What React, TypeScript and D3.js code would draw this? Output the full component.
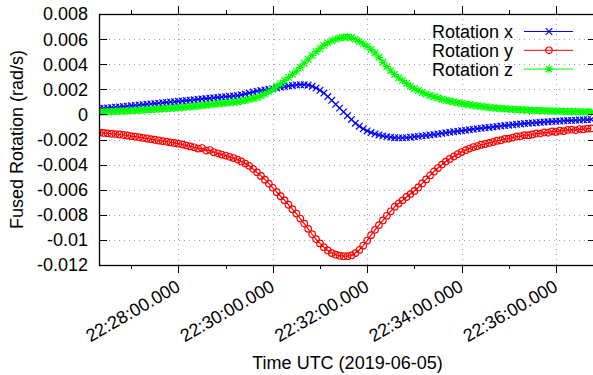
import React from 'react';
import * as d3 from 'd3';

const W = 593;
const H = 375;

// time base of samples (UTC), one sample every 5 s
const sampleStart = '2019-06-05T22:26:20Z';
const sampleStepSec = 5;

// Rotation x (rad/s, x1e-3)
const rotX = [
  0.47, 0.49, 0.52, 0.55, 0.57,
  0.60, 0.63, 0.66, 0.69, 0.72,
  0.75, 0.78, 0.81, 0.84, 0.87,
  0.90, 0.93, 0.96, 0.99, 1.01,
  1.04, 1.07, 1.10, 1.13, 1.16,
  1.20, 1.23, 1.26, 1.29, 1.32,
  1.35, 1.38, 1.41, 1.44, 1.47,
  1.50, 1.56, 1.63, 1.70, 1.78,
  1.85, 1.90, 1.95, 2.00, 2.05,
  2.10, 2.16, 2.22, 2.27, 2.31,
  2.35, 2.37, 2.37, 2.33, 2.24,
  2.10, 1.92, 1.70, 1.42, 1.12,
  0.80, 0.50, 0.20, -0.10, -0.40,
  -0.70, -0.94, -1.15, -1.32, -1.45,
  -1.55, -1.64, -1.71, -1.77, -1.82,
  -1.86, -1.87, -1.87, -1.85, -1.82,
  -1.78, -1.75, -1.71, -1.68, -1.64,
  -1.60, -1.56, -1.51, -1.47, -1.42,
  -1.38, -1.34, -1.30, -1.26, -1.22,
  -1.18, -1.14, -1.11, -1.07, -1.04,
  -1.00, -0.96, -0.93, -0.89, -0.86,
  -0.82, -0.79, -0.76, -0.73, -0.70,
  -0.68, -0.66, -0.63, -0.61, -0.59,
  -0.57, -0.55, -0.53, -0.51, -0.49,
  -0.48, -0.46, -0.45, -0.43, -0.42,
  -0.40,
];

// Rotation y (rad/s, x1e-3)
const rotY = [
  -1.45, -1.48, -1.51, -1.54, -1.57,
  -1.60, -1.64, -1.68, -1.73, -1.77,
  -1.82, -1.87, -1.92, -1.97, -2.02,
  -2.08, -2.13, -2.18, -2.23, -2.28,
  -2.33, -2.40, -2.47, -2.55, -2.62,
  -2.72, -2.68, -2.88, -2.84, -3.02,
  -3.10, -3.20, -3.28, -3.38, -3.48,
  -3.60, -3.75, -3.92, -4.10, -4.35,
  -4.62, -4.90, -5.20, -5.52, -5.85,
  -6.20, -6.52, -6.85, -7.20, -7.55,
  -7.90, -8.30, -8.70, -9.12, -9.55,
  -9.95, -10.28, -10.58, -10.84, -11.05,
  -11.18, -11.26, -11.30, -11.30, -11.24,
  -11.05, -10.80, -10.45, -10.05, -9.62,
  -9.20, -8.82, -8.45, -8.08, -7.72,
  -7.35, -7.10, -6.85, -6.58, -6.35,
  -6.10, -5.82, -5.50, -5.18, -4.86,
  -4.55, -4.27, -4.00, -3.76, -3.55,
  -3.35, -3.17, -3.00, -2.85, -2.72,
  -2.60, -2.52, -2.42, -2.36, -2.27,
  -2.20, -2.10, -2.06, -1.95, -1.93,
  -1.85, -1.76, -1.74, -1.65, -1.66,
  -1.60, -1.52, -1.53, -1.44, -1.46,
  -1.35, -1.40, -1.30, -1.33, -1.24,
  -1.22, -1.27, -1.17, -1.20, -1.13,
  -1.12,
];

// Rotation z (rad/s, x1e-3)
const rotZ = [
  0.18, 0.19, 0.21, 0.22, 0.24,
  0.25, 0.27, 0.28, 0.30, 0.31,
  0.33, 0.35, 0.37, 0.39, 0.41,
  0.43, 0.45, 0.47, 0.49, 0.51,
  0.53, 0.56, 0.59, 0.62, 0.65,
  0.68, 0.71, 0.75, 0.78, 0.82,
  0.85, 0.88, 0.91, 0.94, 0.97,
  1.00, 1.06, 1.13, 1.20, 1.27,
  1.35, 1.48, 1.62, 1.80, 2.00,
  2.25, 2.45, 2.70, 2.95, 3.20,
  3.45, 3.75, 4.08, 4.40, 4.70,
  5.00, 5.25, 5.50, 5.70, 5.87,
  6.00, 6.09, 6.15, 6.17, 6.12,
  5.98, 5.82, 5.62, 5.42, 5.17,
  4.90, 4.55, 4.15, 3.80, 3.48,
  3.18, 2.92, 2.70, 2.47, 2.25,
  2.05, 1.90, 1.75, 1.62, 1.50,
  1.40, 1.30, 1.21, 1.13, 1.06,
  1.00, 0.93, 0.87, 0.82, 0.77,
  0.72, 0.68, 0.64, 0.60, 0.56,
  0.52, 0.50, 0.47, 0.45, 0.42,
  0.40, 0.39, 0.37, 0.36, 0.34,
  0.32, 0.31, 0.30, 0.29, 0.28,
  0.26, 0.26, 0.25, 0.24, 0.23,
  0.22, 0.22, 0.21, 0.20, 0.20,
  0.19,
];

const seriesNames = ['Rotation x', 'Rotation y', 'Rotation z'];
const seriesColors = ['#0000ff', '#ff0000', '#00ff00'];

const yTicks = [0.008, 0.006, 0.004, 0.002, 0, -0.002, -0.004, -0.006, -0.008, -0.01, -0.012];
const yTickLabels = ['0.008', '0.006', '0.004', '0.002', '0', '-0.002', '-0.004', '-0.006', '-0.008', '-0.01', '-0.012'];
const xMajorTicks = ['22:28:00', '22:30:00', '22:32:00', '22:34:00', '22:36:00'];
const xMajorLabels = ['22:28:00.000', '22:30:00.000', '22:32:00.000', '22:34:00.000', '22:36:00.000'];
const xMinorTicks = ['22:27:00', '22:29:00', '22:31:00', '22:33:00', '22:35:00'];
const xDomain = ['22:26:19', '22:36:51'];
const datePrefix = '2019-06-05T';

const FONT = '"Liberation Sans", Arial, sans-serif';
const FS = 18;

const toDate = (hms: string) => new Date(datePrefix + hms + 'Z');

const L = 99, R = 596, T = 14, B = 265;

export default function App() {
  const x = d3.scaleUtc().domain(xDomain.map(toDate)).range([L, R]);
  const y = d3.scaleLinear().domain([-0.012, 0.008]).range([B, T]);

  const t0 = new Date(sampleStart).getTime();
  const makePts = (arr: number[]) =>
    arr.map((v, i) => ({ t: new Date(t0 + i * sampleStepSec * 1000), v: v / 1000 }));
  const series = [rotX, rotY, rotZ].map(makePts);

  const line = d3
    .line<{ t: Date; v: number }>()
    .x((d) => x(d.t))
    .y((d) => y(d.v));

  const s = 3.3;
  const markerPath = (k: number, px: number, py: number) => {
    if (k === 0) return `M${px - s},${py - s}L${px + s},${py + s}M${px - s},${py + s}L${px + s},${py - s}`;
    if (k === 1) return `M${px - s},${py}a${s},${s} 0 1,0 ${2 * s},0a${s},${s} 0 1,0 ${-2 * s},0`;
    return `M${px - s},${py - s}L${px + s},${py + s}M${px - s},${py + s}L${px + s},${py - s}M${px - s - 0.5},${py}H${px + s + 0.5}M${px},${py - s - 0.5}V${py + s + 0.5}`;
  };

  return (
    <svg
      width={W}
      height={H}
      style={{ position: 'absolute', left: 0, top: 0, background: '#fff' }}
      fontFamily={FONT}
    >
      <defs>
        <clipPath id="plotClip">
          <rect x={L} y={T} width={R - L} height={B - T} />
        </clipPath>
      </defs>
      <rect x={0} y={0} width={W} height={H} fill="#fff" />

      {/* grid */}
      <g stroke="#a0a0a0" strokeWidth={1} strokeDasharray="1,4" fill="none">
        {yTicks.map((v, i) => (
          <line key={'gy' + i} x1={L} x2={R} y1={Math.round(y(v)) + 0.5} y2={Math.round(y(v)) + 0.5} />
        ))}
        {xMajorTicks.map((tt, i) => (
          <line key={'gx' + i} x1={Math.round(x(toDate(tt))) + 0.5} x2={Math.round(x(toDate(tt))) + 0.5} y1={T} y2={B} />
        ))}
      </g>

      {/* data */}
      <g clipPath="url(#plotClip)">
        {series.map((pts, k) => (
          <g key={'s' + k}>
            <path d={line(pts) || ''} fill="none" stroke={seriesColors[k]} strokeWidth={1.2} />
            <path
              d={pts.map((p) => markerPath(k, x(p.t), y(p.v))).join('')}
              fill="none"
              stroke={seriesColors[k]}
              strokeWidth={1.2}
            />
          </g>
        ))}
      </g>

      {/* border */}
      <rect x={L + 0.5} y={T + 0.5} width={R - L} height={B - T} fill="none" stroke="#000" strokeWidth={1.3} />

      {/* ticks */}
      <g stroke="#000" strokeWidth={1}>
        {yTicks.map((v, i) => {
          const yy = Math.round(y(v)) + 0.5;
          return (
            <g key={'yt' + i}>
              <line x1={L} x2={L + 8} y1={yy} y2={yy} />
              <line x1={R - 8} x2={R} y1={yy} y2={yy} />
            </g>
          );
        })}
        {xMajorTicks.map((tt, i) => {
          const xx = Math.round(x(toDate(tt))) + 0.5;
          return (
            <g key={'xt' + i}>
              <line x1={xx} x2={xx} y1={B} y2={B + 8} />
              <line x1={xx} x2={xx} y1={T - 8} y2={T} />
            </g>
          );
        })}
        {xMinorTicks.map((tt, i) => {
          const xx = Math.round(x(toDate(tt))) + 0.5;
          return (
            <g key={'xm' + i}>
              <line x1={xx} x2={xx} y1={B} y2={B + 4} />
              <line x1={xx} x2={xx} y1={T - 4} y2={T} />
            </g>
          );
        })}
      </g>

      {/* y tick labels */}
      <g fontSize={FS} fill="#000" textAnchor="end">
        {yTicks.map((v, i) => (
          <text key={'yl' + i} x={88} y={y(v)} dy="0.36em">
            {yTickLabels[i]}
          </text>
        ))}
      </g>

      {/* x tick labels */}
      <g fontSize={FS} fill="#000" textAnchor="end">
        {xMajorTicks.map((tt, i) => (
          <text key={'xl' + i} transform={`translate(${x(toDate(tt)) + 3},${B + 25}) rotate(-30)`}>
            {xMajorLabels[i]}
          </text>
        ))}
      </g>

      {/* axis titles */}
      <text x={(L + R) / 2} y={369} fontSize={FS} textAnchor="middle" fill="#000">
        Time UTC (2019-06-05)
      </text>
      <text transform={`translate(23,${(T + B) / 2}) rotate(-90)`} fontSize={FS} textAnchor="middle" fill="#000">
        Fused Rotation (rad/s)
      </text>

      {/* legend */}
      <g>
        {seriesNames.map((name, k) => {
          const ly = 31.5 + k * 18.8;
          return (
            <g key={'lg' + k}>
              <text x={513} y={ly} dy="0.36em" fontSize={FS} textAnchor="end" fill="#000">
                {name}
              </text>
              <line x1={524} x2={573} y1={ly} y2={ly} stroke={seriesColors[k]} strokeWidth={1} />
              <path d={markerPath(k, 549, ly)} fill="none" stroke={seriesColors[k]} strokeWidth={1.2} />
            </g>
          );
        })}
      </g>
    </svg>
  );
}
